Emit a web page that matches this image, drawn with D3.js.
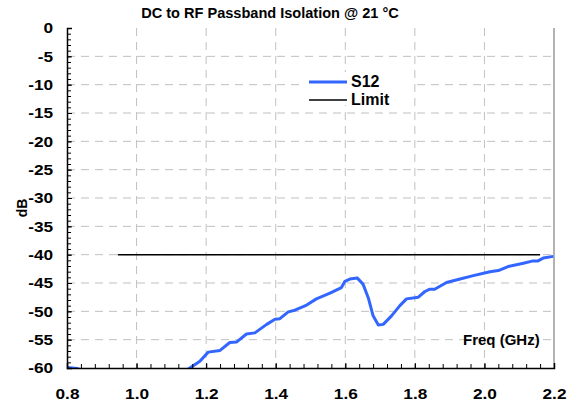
<!DOCTYPE html>
<html>
<head>
<meta charset="utf-8">
<script src="https://cdn.jsdelivr.net/npm/d3@7"></script>
<style>
  body { margin: 0; background: #fff; }
  svg text { font-family: "Liberation Sans", Arial, sans-serif; font-weight: bold; fill: #000; }
</style>
</head>
<body>
<div id="chart"></div>
<script>
// S12 trace (GHz, dB)
var freq = [0.80, 0.83, 0.90, 1.00, 1.10, 1.151, 1.182, 1.206, 1.240, 1.268, 1.288, 1.316, 1.340,
            1.374, 1.398, 1.412, 1.436, 1.455, 1.489, 1.517, 1.556, 1.589, 1.599, 1.613, 1.634,
            1.651, 1.666, 1.680, 1.695, 1.709, 1.733, 1.757, 1.776, 1.810, 1.829, 1.843, 1.857,
            1.891, 1.930, 1.968, 2.016, 2.040, 2.068, 2.112, 2.140, 2.154, 2.169, 2.198];
var s12 = [-59.9, -60.1, -61.5, -63.0, -62.0, -60.1, -58.8, -57.2, -56.9, -55.5, -55.4, -54.0, -53.8,
           -52.3, -51.4, -51.3, -50.1, -49.8, -48.9, -47.8, -46.8, -45.8, -44.7, -44.3, -44.1,
           -45.2, -47.6, -50.8, -52.4, -52.3, -50.8, -49.0, -47.8, -47.5, -46.5, -46.1, -46.1,
           -44.9, -44.3, -43.7, -43.0, -42.8, -42.1, -41.5, -41.1, -41.1, -40.6, -40.3];
var limitFreq = [0.946, 2.16];
var limitDb = [-40, -40];

var xTicks = [0.8, 1.0, 1.2, 1.4, 1.6, 1.8, 2.0, 2.2];
var yTicks = [0, -5, -10, -15, -20, -25, -30, -35, -40, -45, -50, -55, -60];

var margin = {top: 28, right: 14, bottom: 38, left: 67},
    width = 568 - margin.left - margin.right,
    height = 406 - margin.top - margin.bottom;

var x = d3.scaleLinear().domain([0.8, 2.2]).range([0, width]);
var y = d3.scaleLinear().domain([-60, 0]).range([height, 0]);

var svg = d3.select("#chart").append("svg")
    .attr("width", 568)
    .attr("height", 406);

svg.append("text")
    .attr("transform", "translate(270,18)scale(1.04,1)")
    .attr("text-anchor", "middle")
    .attr("font-size", 14)
    .text("DC to RF Passband Isolation @ 21 °C");

var g = svg.append("g")
    .attr("transform", "translate(" + margin.left + "," + margin.top + ")");

// grid
g.selectAll(".hgrid")
    .data(yTicks.filter(function(d) { return d > -60 && d < 0; }))
  .enter().append("line")
    .attr("x1", 0).attr("x2", width)
    .attr("y1", function(d) { return y(d); })
    .attr("y2", function(d) { return y(d); })
    .attr("stroke", "#c0c0c0")
    .attr("stroke-dasharray", "8,6");

g.selectAll(".vgrid")
    .data(xTicks.filter(function(d) { return d > 0.8 && d < 2.2; }))
  .enter().append("line")
    .attr("x1", function(d) { return x(d); })
    .attr("x2", function(d) { return x(d); })
    .attr("y1", 0).attr("y2", height)
    .attr("stroke", "#c0c0c0")
    .attr("stroke-dasharray", "8,6");

// right border
g.append("line")
    .attr("x1", width).attr("x2", width)
    .attr("y1", 0).attr("y2", height)
    .attr("stroke", "#9a9a9a")
    .attr("stroke-width", 1.5);

// legend background
g.append("rect")
    .attr("x", 232).attr("y", 44)
    .attr("width", 112).attr("height", 33)
    .attr("fill", "#fff");

g.append("clipPath").attr("id", "clip")
  .append("rect")
    .attr("x", 0).attr("y", -2)
    .attr("width", width + 2).attr("height", height + 2);

var line = d3.line()
    .x(function(d) { return x(d[0]); })
    .y(function(d) { return y(d[1]); });

g.append("path")
    .datum(d3.zip(limitFreq, limitDb))
    .attr("fill", "none")
    .attr("stroke", "#000")
    .attr("stroke-width", 1.5)
    .attr("d", line);

g.append("path")
    .datum(d3.zip(freq, s12))
    .attr("clip-path", "url(#clip)")
    .attr("fill", "none")
    .attr("stroke", "#3366ff")
    .attr("stroke-width", 3)
    .attr("stroke-linejoin", "round")
    .attr("d", line);

// axes
var xMinor = g.append("g")
    .attr("transform", "translate(0," + height + ")")
    .call(d3.axisBottom(x).tickValues(d3.range(0.8, 2.2001, 0.04)).tickSize(-4).tickFormat(""));
xMinor.select(".domain").remove();

var xAxis = g.append("g")
    .attr("transform", "translate(0," + height + ")")
    .call(d3.axisBottom(x).tickValues(xTicks).tickSize(-5).tickPadding(20).tickFormat(d3.format(".1f")));
xAxis.select(".domain").attr("stroke-width", 1.5);
xAxis.selectAll("text").attr("font-size", 15).attr("transform", "scale(1.15,1)");

var yMinor = g.append("g")
    .call(d3.axisLeft(y).tickValues(d3.range(-60, 0.5, 1)).tickSize(-4).tickFormat(""));
yMinor.select(".domain").remove();

var yAxis = g.append("g")
    .call(d3.axisLeft(y).tickValues(yTicks).tickSize(-5).tickPadding(12).tickFormat(function(d) { return String(d); }));
yAxis.select(".domain").attr("stroke-width", 1.5);
yAxis.selectAll("text").attr("font-size", 15).attr("transform", "scale(1.15,1)");

svg.selectAll(".tick text").style("font-family", "'Liberation Sans', Arial, sans-serif").style("font-weight", "bold");

svg.append("text")
    .attr("transform", "translate(27,208)rotate(-90)")
    .attr("text-anchor", "middle")
    .attr("font-size", 14)
    .text("dB");

g.append("text")
    .attr("transform", "translate(396,317)scale(1.0,1)")
    .attr("font-size", 15)
    .text("Freq (GHz)");

// legend
var legend = [{name: "S12", color: "#3366ff", w: 3}, {name: "Limit", color: "#000", w: 1.5}];
var lg = g.selectAll(".legend")
    .data(legend)
  .enter().append("g")
    .attr("transform", function(d, i) { return "translate(242," + (54 + i * 18) + ")"; });
lg.append("line")
    .attr("x1", 0).attr("x2", 38)
    .attr("stroke", function(d) { return d.color; })
    .attr("stroke-width", function(d) { return d.w; });
lg.append("text")
    .attr("x", 42)
    .attr("y", 5)
    .attr("font-size", 16)
    .text(function(d) { return d.name; });
</script>
</body>
</html>
